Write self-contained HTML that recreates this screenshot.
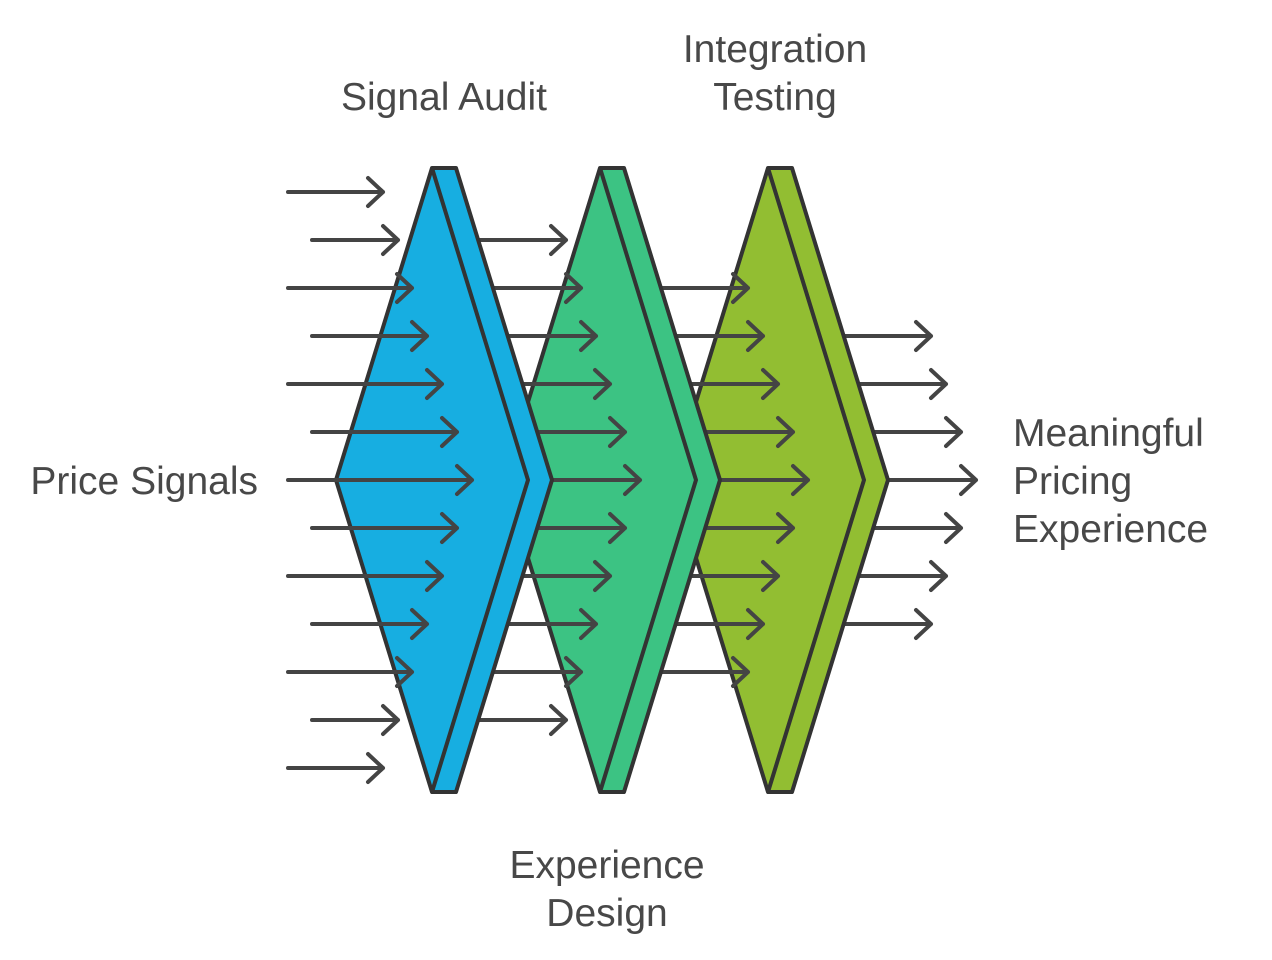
<!DOCTYPE html>
<html><head><meta charset="utf-8"><style>
html,body{margin:0;padding:0;background:#fff;}
svg{display:block;}
text{font-family:"Liberation Sans",sans-serif;font-size:39px;fill:#484848;}
</style></head><body>
<svg width="1272" height="960" viewBox="0 0 1272 960" xmlns="http://www.w3.org/2000/svg">
<g stroke="#444" stroke-width="4" stroke-linecap="round" stroke-linejoin="round" fill="none">
<path d="M820 336H931M916 322L931 336L916 350"/>
<path d="M820 384H946M931 370L946 384L931 398"/>
<path d="M820 432H961M946 418L961 432L946 446"/>
<path d="M820 480H976M961 466L976 480L961 494"/>
<path d="M820 528H961M946 514L961 528L946 542"/>
<path d="M820 576H946M931 562L946 576L931 590"/>
<path d="M820 624H931M916 610L931 624L916 638"/>
</g>
<g stroke="#333" stroke-width="4" stroke-linejoin="round">
<polygon points="768,168 792,168 888,480 792,792 768,792 672,480" fill="#92BE32"/>
<polyline points="768,168 864,480 768,792" fill="none"/>
</g>
<g stroke="#444" stroke-width="4" stroke-linecap="round" stroke-linejoin="round" fill="none">
<path d="M640 288H748M733 274L748 288L733 302"/>
<path d="M640 336H763M748 322L763 336L748 350"/>
<path d="M640 384H778M763 370L778 384L763 398"/>
<path d="M640 432H793M778 418L793 432L778 446"/>
<path d="M640 480H808M793 466L808 480L793 494"/>
<path d="M640 528H793M778 514L793 528L778 542"/>
<path d="M640 576H778M763 562L778 576L763 590"/>
<path d="M640 624H763M748 610L763 624L748 638"/>
<path d="M640 672H748M733 658L748 672L733 686"/>
</g>
<g stroke="#333" stroke-width="4" stroke-linejoin="round">
<polygon points="600,168 624,168 720,480 624,792 600,792 504,480" fill="#3CC383"/>
<polyline points="600,168 696,480 600,792" fill="none"/>
</g>
<g stroke="#444" stroke-width="4" stroke-linecap="round" stroke-linejoin="round" fill="none">
<path d="M470 240H566M551 226L566 240L551 254"/>
<path d="M470 288H581M566 274L581 288L566 302"/>
<path d="M470 336H596M581 322L596 336L581 350"/>
<path d="M470 384H610M595 370L610 384L595 398"/>
<path d="M470 432H625M610 418L625 432L610 446"/>
<path d="M470 480H640M625 466L640 480L625 494"/>
<path d="M470 528H625M610 514L625 528L610 542"/>
<path d="M470 576H610M595 562L610 576L595 590"/>
<path d="M470 624H596M581 610L596 624L581 638"/>
<path d="M470 672H581M566 658L581 672L566 686"/>
<path d="M470 720H566M551 706L566 720L551 734"/>
</g>
<g stroke="#333" stroke-width="4" stroke-linejoin="round">
<polygon points="432,168 456,168 552,480 456,792 432,792 336,480" fill="#17AEE1"/>
<polyline points="432,168 528,480 432,792" fill="none"/>
</g>
<g stroke="#444" stroke-width="4" stroke-linecap="round" stroke-linejoin="round" fill="none">
<path d="M288 192H383M368 178L383 192L368 206"/>
<path d="M312 240H398M383 226L398 240L383 254"/>
<path d="M288 288H412M397 274L412 288L397 302"/>
<path d="M312 336H427M412 322L427 336L412 350"/>
<path d="M288 384H442M427 370L442 384L427 398"/>
<path d="M312 432H457M442 418L457 432L442 446"/>
<path d="M288 480H472M457 466L472 480L457 494"/>
<path d="M312 528H457M442 514L457 528L442 542"/>
<path d="M288 576H442M427 562L442 576L427 590"/>
<path d="M312 624H427M412 610L427 624L412 638"/>
<path d="M288 672H412M397 658L412 672L397 686"/>
<path d="M312 720H398M383 706L398 720L383 734"/>
<path d="M288 768H383M368 754L383 768L368 782"/>
</g>
<text x="258" y="494" text-anchor="end">Price Signals</text>
<text x="444" y="110" text-anchor="middle">Signal Audit</text>
<text x="775" y="62" text-anchor="middle">Integration</text>
<text x="775" y="110" text-anchor="middle">Testing</text>
<text x="607" y="878" text-anchor="middle">Experience</text>
<text x="607" y="926" text-anchor="middle">Design</text>
<text x="1013" y="446">Meaningful</text>
<text x="1013" y="494">Pricing</text>
<text x="1013" y="542">Experience</text>
</svg>
</body></html>
